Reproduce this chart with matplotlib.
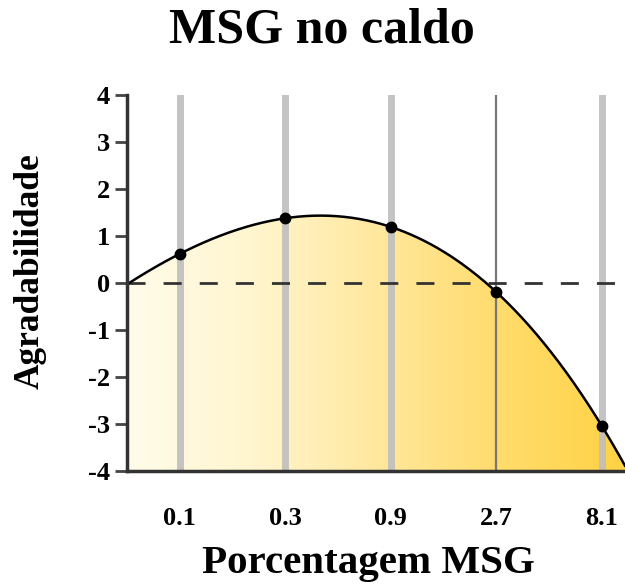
import numpy as np
import matplotlib.pyplot as plt
from matplotlib.colors import LinearSegmentedColormap

# Palatability of broth vs. MSG concentration
msg_labels = ['0.1', '0.3', '0.9', '2.7', '8.1']
palatability = [0.62, 1.38, 1.19, -0.19, -3.04]
y_ticks = [4, 3, 2, 1, 0, -1, -2, -3, -4]

serif = ['Liberation Serif', 'DejaVu Serif']

pos = np.arange(len(msg_labels))
x_lo, x_hi = -0.5, 4.22

# smooth trend curve through the means (cubic in log concentration)
coef = np.polyfit(pos, palatability, 3)
xs = np.linspace(x_lo, x_hi, 400)
ys = np.polyval(coef, xs)

fig = plt.figure(figsize=(6.25, 5.85), dpi=100)
ax = fig.add_axes([0.2032, 0.1949, 0.7968, 0.6427])
ax.set_xlim(x_lo, x_hi)
ax.set_ylim(-4, 4)

# cream-to-gold gradient under the curve
cmap = LinearSegmentedColormap.from_list(
    'broth', ['#FFFCEA', '#FFF5CF', '#FFE89E', '#FFDC6C', '#FFD244'])
grad = np.linspace(0, 1, 256).reshape(1, -1)
poly = ax.fill_between(xs, ys, -4, color='none', lw=0)
img = ax.imshow(grad, cmap=cmap, aspect='auto', extent=[x_lo, x_hi, -4, 4],
                zorder=1)
img.set_clip_path(poly.get_paths()[0], transform=ax.transData)

# vertical guides at each concentration
for i in pos:
    if msg_labels[i] == '2.7':
        ax.axvline(i, color='#777777', lw=1.6, zorder=2)
    else:
        ax.axvline(i, color='#BEBEBE', lw=5, alpha=0.9, zorder=2)

ax.axhline(0, color='#333333', lw=2, dashes=(6.5, 6.5), zorder=3)
ax.plot(xs, ys, color='black', lw=1.8, zorder=4)
ax.plot(pos, palatability, 'o', color='black', ms=7.5, zorder=5)

ax.set_xticks(pos)
ax.set_xticklabels(msg_labels, fontfamily=serif, fontweight='bold', fontsize=19)
ax.set_yticks(y_ticks)
ax.set_yticklabels([str(v) for v in y_ticks], fontfamily=serif,
                   fontweight='bold', fontsize=19)
ax.tick_params(axis='x', length=0, pad=26)
ax.tick_params(axis='y', length=8.5, width=2, color='#444444', pad=4)

for side in ['top', 'right']:
    ax.spines[side].set_visible(False)
for side in ['left', 'bottom']:
    ax.spines[side].set_color('#333333')
    ax.spines[side].set_linewidth(2.5)
    ax.spines[side].set_zorder(6)

ax.set_xlabel('Porcentagem MSG', fontfamily=serif, fontweight='bold',
              fontsize=29.5, va='center')
ax.xaxis.set_label_coords(0.484, -0.245)
ax.set_ylabel('Agradabilidade', fontfamily=serif, fontweight='bold',
              fontsize=25.5, va='center')
ax.yaxis.set_label_coords(-0.195, 0.532)
fig.text(0.515, 0.948, 'MSG no caldo', fontfamily=serif, fontweight='bold',
         fontsize=36, ha='center', va='center')

fig.savefig('out.png', dpi=100)
